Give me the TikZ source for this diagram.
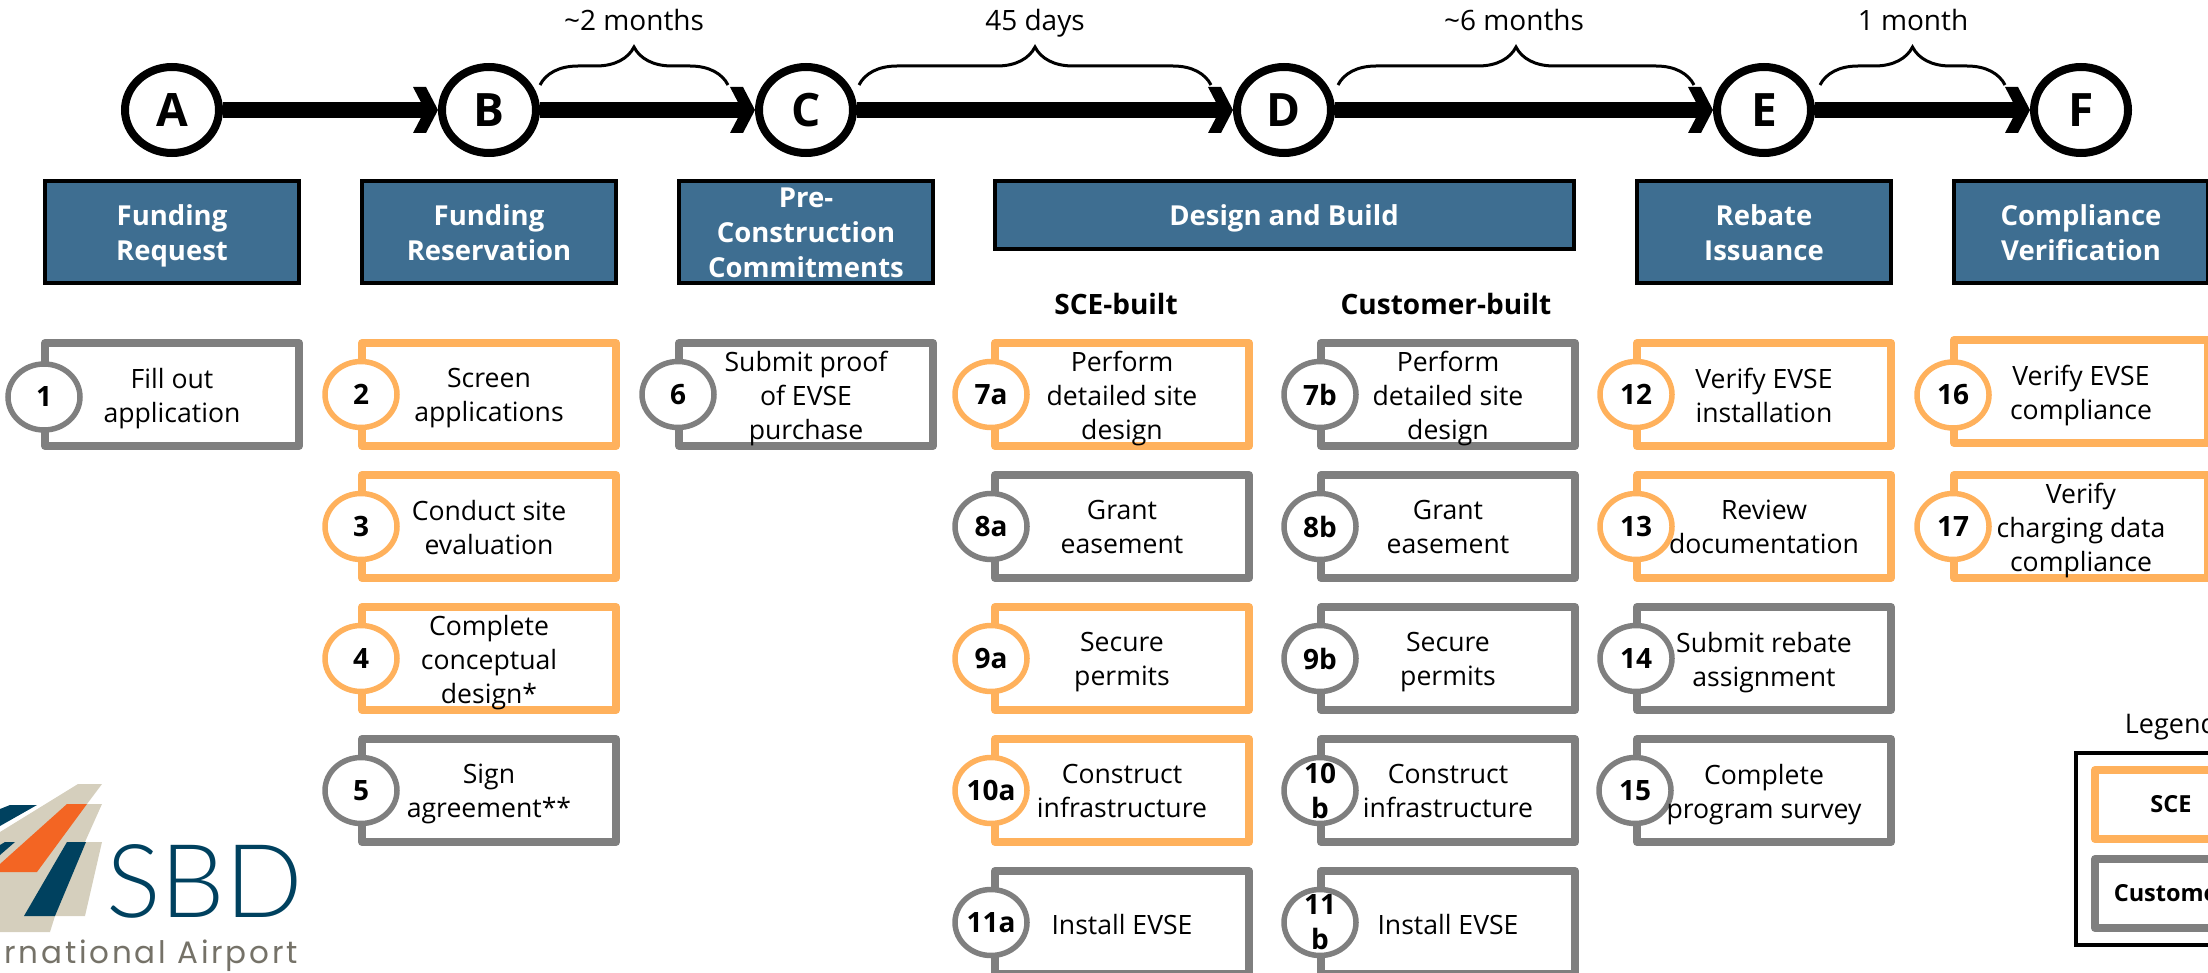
\documentclass[tikz,border=0pt]{standalone}
\usepackage{fontspec}
\setmainfont{Open Sans}
\newfontfamily\sbdfont{Lato Light}
\newfontfamily\airfont[LetterSpace=9]{Poppins}
\usetikzlibrary{arrows.meta,decorations.pathreplacing,fit,positioning,shapes.geometric}
\definecolor{scecol}{HTML}{FFB15C}
\definecolor{custcol}{HTML}{7F7F7F}
\definecolor{headcol}{HTML}{3E6E91}
\definecolor{sanddark}{HTML}{D5CFBD}
\definecolor{flameorg}{HTML}{F36523}
\definecolor{navydark}{HTML}{00415F}
\pgfdeclarearrow{
  name = Chevron,
  setup code = {
    \pgfarrowssettipend{0pt}
    \pgfarrowssetlineend{-12pt}
    \pgfarrowssetbackend{-25pt}
    \pgfarrowssetvisualbackend{-13pt}
  },
  drawing code = {
    \pgfpathmoveto{\pgfqpoint{-25pt}{23pt}}
    \pgfpathlineto{\pgfqpoint{-12pt}{23pt}}
    \pgfpathlineto{\pgfqpoint{0pt}{0pt}}
    \pgfpathlineto{\pgfqpoint{-12pt}{-23pt}}
    \pgfpathlineto{\pgfqpoint{-25pt}{-23pt}}
    \pgfpathlineto{\pgfqpoint{-13pt}{0pt}}
    \pgfpathclose
    \pgfusepathqfill
  },
}
% box, number circle on its left edge, text on top of both
\newcommand{\stepitem}[6][]{
  \node[box,#4] (s#2) [#3] {};
  \node[num,#4,#1] (n#2) at (s#2.west) [label={[numtext]center:{#5}}] {};
  \node[steptext] (t#2) at (s#2) {#6};
}

\begin{document}
\begin{tikzpicture}[x=1pt,y=1pt]
  	\tikzstyle{mile}=[ellipse, minimum width=94pt, minimum height=86pt, line width=8pt, draw=black, inner sep=0pt, font=\fontsize{46}{46}\selectfont\bfseries]
  	\tikzstyle{connect}=[-Chevron, line width=16pt]
  	\tikzstyle{head}=[rectangle, minimum width=254pt, minimum height=102pt, line width=4pt, draw=black, fill=headcol, inner sep=0pt]
  	\tikzstyle{headtext}=[text=white, inner sep=0pt, yshift=-6pt, align=center, font=\fontsize{27.5}{35}\selectfont\bfseries, execute at begin node=\strut, execute at end node=\strut]
  	\tikzstyle{box}=[rectangle, minimum width=254pt, minimum height=103pt, line width=8pt, line join=round, inner sep=0pt]
  	\tikzstyle{num}=[ellipse, minimum width=72pt, minimum height=66pt, line width=5.5pt, fill=white, inner sep=0pt, xshift=3pt]
  	\tikzstyle{numtext}=[inner sep=0pt, align=center, font=\fontsize{28}{35}\selectfont\bfseries]
  	\tikzstyle{steptext}=[inner sep=0pt, yshift=-5.5pt, align=center, font=\fontsize{26.6}{34}\selectfont, execute at begin node=\strut, execute at end node=\strut]
  	\tikzstyle{span}=[inner sep=0pt, text height=20pt, text depth=6pt, font=\fontsize{28}{32}\selectfont]
  	\tikzstyle{brace}=[decorate, decoration={brace,amplitude=38pt}, line width=3pt]
  	\tikzstyle{build}=[inner sep=0pt, font=\fontsize{28}{32}\selectfont\bfseries]
  	\tikzstyle{sce}=[draw=scecol]
  	\tikzstyle{cust}=[draw=custcol]
  	\clip (0,0) rectangle (2208,-973);

  	% milestones
  	\node[mile] (A) at (172,-110) {A};
  	\node[mile] (B) [right=215pt of A] {B};
  	\node[mile] (C) [right=215pt of B] {C};
  	\node[mile] (D) [right=376pt of C] {D};
  	\node[mile] (E) [right=378pt of D] {E};
  	\node[mile] (F) [right=215pt of E] {F};
  	\path
  	(A) edge [connect] (B)
  	(B) edge [connect] (C)
  	(C) edge [connect] (D)
  	(D) edge [connect] (E)
  	(E) edge [connect] (F);

  	% durations
  	\coordinate (b1s) at (540,-85);
  	\coordinate (b1e) at (728,-85);
  	\coordinate (b2s) at (859,-85);
  	\coordinate (b2e) at (1211,-85);
  	\coordinate (b3s) at (1338,-85);
  	\coordinate (b3e) at (1694,-85);
  	\coordinate (b4s) at (1820,-85);
  	\coordinate (b4e) at (2005,-85);
  	\draw[brace] (b1s) -- (b1e);
  	\draw[brace] (b2s) -- (b2e);
  	\draw[brace] (b3s) -- (b3e);
  	\draw[brace] (b4s) -- (b4e);
  	\node[span] (l1) at (634,-24) {\textasciitilde 2 months};
  	\node[span] (l2) at (1035,-24) {45 days};
  	\node[span] (l3) at (1514,-24) {\textasciitilde 6 months};
  	\node[span] (l4) at (1913,-24) {1 month};

  	% phase headers
  	\node[head] (hA) [below=22pt of A,label={[headtext]center:{Funding\\Request}}] {};
  	\node[head] (hB) [below=22pt of B,label={[headtext]center:{Funding\\Reservation}}] {};
  	\node[head] (hC) [below=22pt of C,label={[headtext]center:{Pre-\\Construction\\Commitments}}] {};
  	\node[head,minimum width=579pt,minimum height=68pt] (hD) [below=22pt of D,label={[headtext,yshift=2pt]center:{Design and Build}}] {};
  	\node[head] (hE) [below=22pt of E,label={[headtext]center:{Rebate\\Issuance}}] {};
  	\node[head] (hF) [below=22pt of F,label={[headtext]center:{Compliance\\Verification}}] {};
  	\node[build] (sceb) at (1116,-304) {SCE-built};
  	\node[build] (custb) at (1446,-304) {Customer-built};

  	% steps
  	\stepitem[yshift=-2.5pt]{1}{below=54pt of hA}{cust}{1}{Fill out\\application}
  	\stepitem{2}{below=54pt of hB}{sce}{2}{Screen\\applications}
  	\stepitem{3}{below=21pt of s2}{sce}{3}{Conduct site\\evaluation}
  	\stepitem{4}{below=21pt of s3}{sce}{4}{Complete\\conceptual\\design*}
  	\stepitem{5}{below=21pt of s4}{cust}{5}{Sign\\agreement**}
  	\stepitem{6}{below=54pt of hC}{cust}{6}{Submit proof\\of EVSE\\purchase}
  	\stepitem[xshift=-3pt]{7a}{at={(1122,-394.5)}}{sce}{7a}{Perform\\detailed site\\design}
  	\stepitem[xshift=-3pt]{8a}{below=21pt of s7a}{cust}{8a}{Grant\\easement}
  	\stepitem[xshift=-3pt]{9a}{below=21pt of s8a}{sce}{9a}{Secure\\permits}
  	\stepitem[xshift=-3pt]{10a}{below=21pt of s9a}{sce}{10a}{Construct\\infrastructure}
  	\stepitem[xshift=-3pt]{11a}{below=21pt of s10a}{cust}{11a}{Install EVSE}
  	\stepitem{7b}{at={(1448,-394.5)}}{cust}{7b}{Perform\\detailed site\\design}
  	\stepitem{8b}{below=21pt of s7b}{cust}{8b}{Grant\\easement}
  	\stepitem{9b}{below=21pt of s8b}{cust}{9b}{Secure\\permits}
  	\stepitem{10b}{below=21pt of s9b}{cust}{10\\b}{Construct\\infrastructure}
  	\stepitem{11b}{below=21pt of s10b}{cust}{11\\b}{Install EVSE}
  	\stepitem{12}{below=54pt of hE}{sce}{12}{Verify EVSE\\installation}
  	\stepitem{13}{below=21pt of s12}{sce}{13}{Review\\documentation}
  	\stepitem{14}{below=21pt of s13}{cust}{14}{Submit rebate\\assignment}
  	\stepitem[xshift=-1pt]{15}{below=21pt of s14}{cust}{15}{Complete\\program survey}
  	\stepitem[yshift=-3.5pt]{16}{below=51pt of hF}{sce}{16}{Verify EVSE\\compliance}
  	\stepitem{17}{below=24pt of s16}{sce}{17}{Verify\\charging data\\compliance}

  	% legend
  	\node[box,sce,minimum width=152pt,minimum height=69pt,font=\fontsize{23.5}{28}\selectfont\bfseries] (lgsce) at (2171,-804.5) {SCE};
  	\node[box,cust,minimum width=152pt,minimum height=69pt,font=\fontsize{23.5}{28}\selectfont\bfseries] (lgcust) [below=12pt of lgsce] {Customer};
  	\node[rectangle, draw=black, line width=4pt, inner xsep=15pt, inner ysep=13pt, fit=(lgsce) (lgcust)] (lgframe) {};
  	\node[inner sep=0pt, font=\fontsize{27}{32}\selectfont] (lgtitle) [above=11pt of lgframe] {Legend};

  	% logo
  	\fill[sanddark] (78,-784) -- (102,-784) -- (87,-804) -- (102,-804) -- (85,-842) -- (102,-842) -- (85,-916) -- (55,-916) -- (50,-932) -- (0,-932) -- (0,-832) -- cycle;
  	\fill[flameorg] (67,-804) -- (87,-804) -- (37,-872) -- (0,-872) -- (0,-864) -- cycle;
  	\fill[navydark] (10,-805) -- (37,-805) -- (0,-826) -- (0,-809) -- cycle;
  	\fill[navydark] (5,-842) -- (15,-842) -- (0,-855) -- (0,-845) -- cycle;
  	\fill[navydark] (67,-842) -- (86,-842) -- (55,-916) -- (24,-916) -- cycle;
  	\node[inner sep=0pt, text=navydark, anchor=base west, font=\fontsize{102}{102}\sbdfont] (sbd) at (106,-917) {SBD};
  	\node[inner sep=0pt, text=black!45!sanddark, anchor=base east, font=\fontsize{31}{31}\airfont] (airport) at (298,-963) {International Airport};
\end{tikzpicture}
\end{document}
